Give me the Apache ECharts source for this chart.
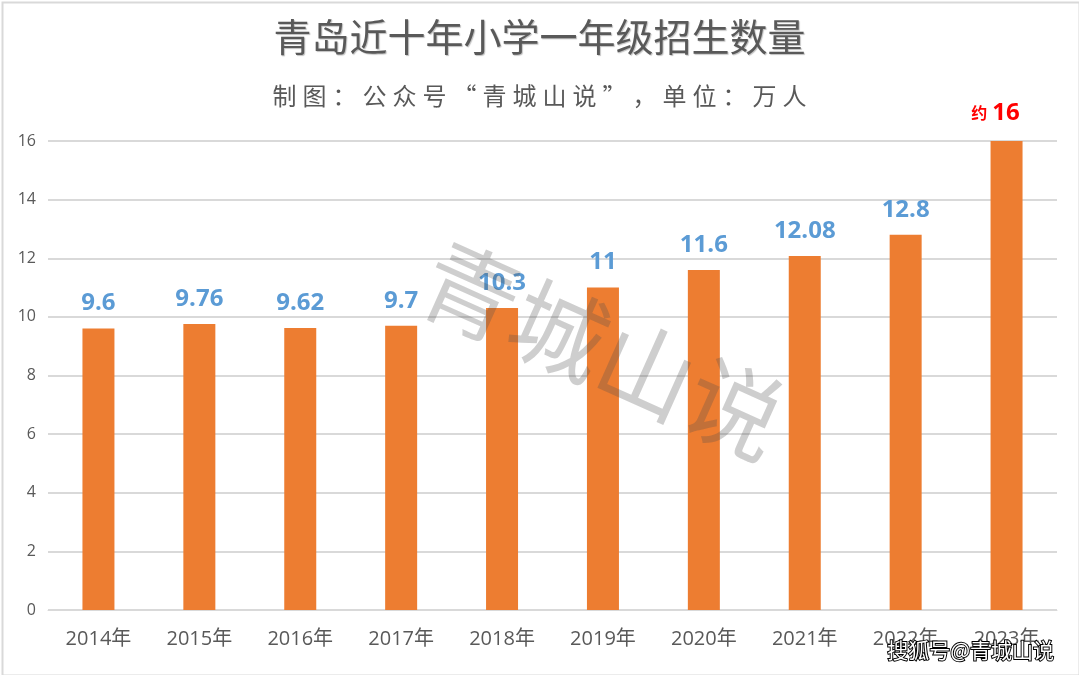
<!DOCTYPE html>
<html>
<head>
<meta charset="utf-8">
<script src="https://cdn.jsdelivr.net/npm/echarts@6/dist/echarts.min.js"></script>
<style>
  html, body { margin: 0; padding: 0; background: #fff; }
  #main { width: 1079px; height: 675px; }
</style>
</head>
<body>
<div id="main"></div>
<script type="text/javascript">
// 数据
var years = ['2014年', '2015年', '2016年', '2017年', '2018年', '2019年', '2020年', '2021年', '2022年', '2023年'];
var enrolment = [9.6, 9.76, 9.62, 9.7, 10.3, 11, 11.6, 12.08, 12.8, 16];
var yTicks = { min: 0, max: 16, interval: 2 };

var myChart = echarts.init(document.getElementById('main'));
var cjk = '"Noto Sans CJK SC", "Noto Sans", sans-serif';

// 副标题字间距较宽,用窄空格拉开
var subtitle = '制图：公众号“青城山说”，单位：万人'.split('').join('\u2005');

var seriesData = enrolment.map(function (v, i) {
	if (i === enrolment.length - 1) {
		// 最后一年为估计值,红色标注
		return {
			value: v,
			label: {
				formatter: '{a|约}{b|{c}}',
				offset: [-11, -3],
				rich: {
					a: { color: '#ff0000', fontSize: 16, fontFamily: cjk, padding: [0, 5, 0, 0] },
					b: { color: '#ff0000', fontSize: 24, fontWeight: 'bold', fontFamily: 'Open Sans, sans-serif' }
				}
			}
		};
	}
	return v;
});

var option = {
	backgroundColor: '#fff',
	title: [{
		text: '青岛近十年小学一年级招生数量',
		left: 'center',
		top: 13,
		textStyle: {
			fontFamily: cjk,
			fontSize: 38,
			fontWeight: 'normal',
			color: '#595959',
			textShadowColor: 'rgba(0,0,0,0.25)',
			textShadowBlur: 1,
			textShadowOffsetX: 1,
			textShadowOffsetY: 1
		}
	}, {
		text: subtitle,
		left: 'center',
		top: 79,
		textStyle: {
			fontFamily: cjk,
			fontSize: 24,
			fontWeight: 'normal',
			color: '#595959'
		}
	}],
	grid: {
		left: 48,
		right: 22,
		top: 141,
		bottom: 65
	},
	xAxis: {
		type: 'category',
		data: years,
		axisLine: { lineStyle: { color: '#d9d9d9', width: 1 } },
		axisTick: { show: false },
		axisLabel: {
			color: '#595959',
			fontSize: 20,
			fontFamily: 'Open Sans, ' + cjk,
			margin: 19
		}
	},
	yAxis: {
		type: 'value',
		min: yTicks.min,
		max: yTicks.max,
		interval: yTicks.interval,
		axisLine: { show: false },
		axisTick: { show: false },
		axisLabel: {
			color: '#595959',
			fontSize: 16,
			fontFamily: 'Open Sans, sans-serif',
			margin: 12
		},
		splitLine: { lineStyle: { color: '#d9d9d9', width: 2 } }
	},
	series: [{
		type: 'bar',
		data: seriesData,
		barWidth: 32,
		itemStyle: { color: '#ed7d31' },
		label: {
			show: true,
			position: 'top',
			distance: 13,
			color: '#5b9bd5',
			fontSize: 24,
			fontWeight: 'bold',
			fontFamily: 'Open Sans, sans-serif'
		}
	}],
	graphic: [{
		// 外边框
		type: 'rect',
		left: 0,
		top: 0,
		shape: { width: 1077, height: 673 },
		style: { fill: 'none', stroke: '#d9d9d9', lineWidth: 2 },
		z: 100
	}, {
		// 水印
		type: 'text',
		x: 603,
		y: 350,
		rotation: -0.42,
		style: {
			text: '青城山说',
			fontSize: 96,
			fontWeight: 'normal',
			fontFamily: cjk,
			fill: 'rgba(80,80,80,0.28)',
			align: 'center',
			verticalAlign: 'middle'
		},
		z: 100
	}, {
		type: 'text',
		right: 24,
		top: 639,
		style: {
			text: '搜狐号@青城山说',
			fontSize: 21,
			fontFamily: cjk,
			fill: '#fff',
			stroke: '#000',
			lineWidth: 2
		},
		z: 100
	}]
};

myChart.setOption(option);
</script>
</body>
</html>
